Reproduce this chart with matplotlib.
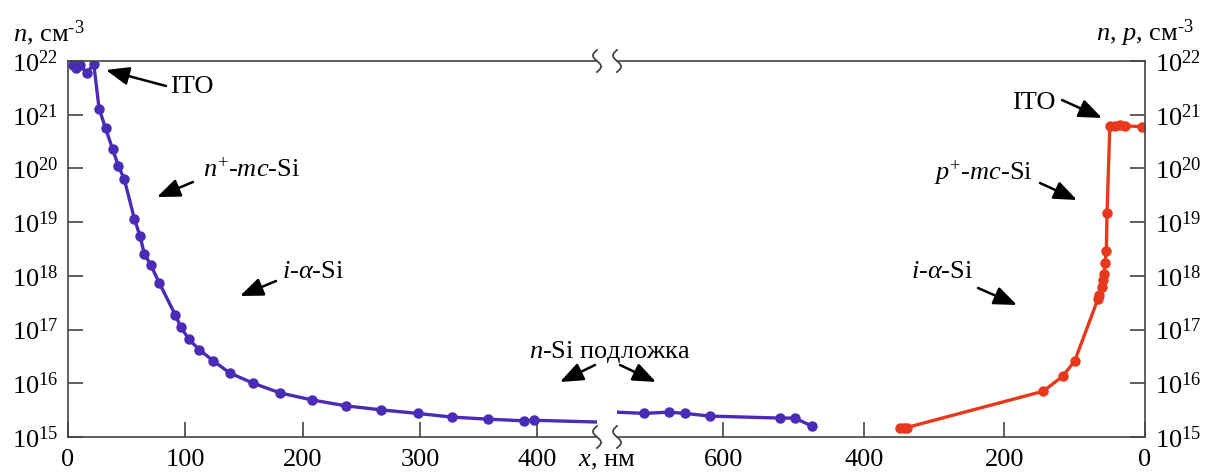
import numpy as np
import matplotlib
matplotlib.use("Agg")
import matplotlib.pyplot as plt
from matplotlib.lines import Line2D
from matplotlib.ticker import FixedLocator, FuncFormatter

plt.rcParams['font.family'] = ['Liberation Serif', 'DejaVu Serif']
plt.rcParams['mathtext.fontset'] = 'custom'
plt.rcParams['mathtext.rm'] = 'Liberation Serif'
plt.rcParams['mathtext.it'] = 'Liberation Serif:italic'
plt.rcParams['mathtext.bf'] = 'Liberation Serif:bold'

# front side (n-type), x from the ITO surface, nm
x_front = [4, 7, 10, 16, 22, 26.5, 32, 38, 43, 48, 56.6, 61.4, 65, 70.5, 77.8,
           91.3, 96.4, 103, 112, 124, 138, 158, 181, 208, 237, 267, 298, 327,
           358, 389, 397, 451]
n_front = [8.5e21, 7.4e21, 8.5e21, 6.0e21, 8.7e21, 1.3e21, 5.6e20, 2.3e20,
           1.1e20, 6.3e19, 1.15e19, 5.5e18, 2.6e18, 1.6e18, 7.4e17, 1.9e17,
           1.1e17, 6.6e16, 4.2e16, 2.6e16, 1.55e16, 1.0e16, 6.6e15, 4.9e15,
           3.8e15, 3.2e15, 2.75e15, 2.35e15, 2.15e15, 2.0e15, 2.05e15, 1.9e15]

# substrate continuation, shown on the right (reversed) scale
x_sub = [751, 713, 677, 654, 619, 519, 498, 474]
n_sub = [2.9e15, 2.75e15, 2.9e15, 2.75e15, 2.45e15, 2.25e15, 2.25e15, 1.6e15]

# back side (p-type), x from the back ITO surface, nm
x_back = [349, 343, 339, 145, 117, 100, 67, 65, 61, 60, 58, 57, 55, 54, 50,
          43, 36, 28, 4]
p_back = [1.5e15, 1.5e15, 1.5e15, 7.1e15, 1.35e16, 2.6e16, 3.7e17, 4.4e17,
          6.2e17, 8.3e17, 1.1e18, 1.75e18, 2.9e18, 1.5e19, 6.1e20, 6.2e20,
          6.3e20, 6.2e20, 6.0e20]

left_xticks = [0, 100, 200, 300, 400]
right_xticks = [600, 400, 200, 0]
decades = list(range(15, 23))

blue = '#4a2bb5'
red = '#e8381c'
axc = '#444444'

W, H = 1205, 474
fig = plt.figure(figsize=(W / 100, H / 100), dpi=100)


def fx(x):
    return x / W


def fy(y):
    return 1 - y / H


def px(x, y):
    return (fx(x), fy(y))


top, bot = 61, 437
ax1 = fig.add_axes([fx(68), fy(bot), fx(597 - 68), (bot - top) / H])
ax2 = fig.add_axes([fx(617), fy(bot), fx(1145 - 617), (bot - top) / H])

fmt = FuncFormatter(lambda v, p: r'$10^{%d}$' % round(np.log10(v)))
for ax in (ax1, ax2):
    ax.set_yscale('log')
    ax.set_ylim(1e15, 1e22)
    ax.yaxis.set_major_locator(FixedLocator([10.0 ** d for d in decades]))
    ax.yaxis.set_minor_locator(FixedLocator([]))
    ax.yaxis.set_major_formatter(fmt)
    for s in ax.spines.values():
        s.set_color(axc)
        s.set_linewidth(1.2)
    ax.tick_params(direction='in', length=11, width=1.2, color=axc,
                   labelsize=19, pad=7)
    ax.tick_params(axis='x', pad=9)
    ax.patch.set_alpha(0)

ax1.set_xlim(0, 451)
ax1.set_xticks(left_xticks)
ax1.spines['right'].set_visible(False)
ax1.plot(x_front, n_front, color=blue, lw=2.4, marker='o', ms=6.5,
         markevery=slice(0, -1))

ax2.set_xlim(751, 0)
ax2.set_xticks(right_xticks)
ax2.spines['left'].set_visible(False)
ax2.yaxis.tick_right()
ax2.plot(x_sub, n_sub, color=blue, lw=2.4, marker='o', ms=6.5,
         markevery=slice(1, None))
ax2.plot(x_back, p_back, color=red, lw=2.4, marker='o', ms=6.5)

# axis break marks
t = np.linspace(-1, 1, 40)
for xb in (597, 617):
    for yb in (top, bot):
        xs = [fx(xb + 4 * np.sin(np.pi * tt)) for tt in t]
        ys = [fy(yb + 11 * tt) for tt in t]
        fig.add_artist(Line2D(xs, ys, color=axc, lw=1.3,
                              transform=fig.transFigure))

# axis labels
fig.text(*px(13, 33), r'$n$, см$^{\text{-}3}$', fontsize=19, ha='left',
         va='center')
fig.text(*px(1194, 33), r'$n$, $p$, см$^{\text{-}3}$', fontsize=19,
         ha='right', va='center')
fig.text(*px(607, 461), r'$x$, нм', fontsize=19, ha='center', va='center')

# annotations
aprops = dict(arrowstyle='-|>,head_length=0.7,head_width=0.28', lw=1.8,
              color='black', shrinkA=0, shrinkB=0, mutation_scale=20)


def arrow(xy_tail, xy_tip):
    fig.add_artist(plt.Annotation('', xy=px(*xy_tip), xytext=px(*xy_tail),
                                  xycoords='figure fraction',
                                  textcoords='figure fraction',
                                  arrowprops=aprops))


def note(text, xy_text, xy_tail, xy_tip):
    fig.text(*px(*xy_text), text, fontsize=19, ha='center', va='center')
    arrow(xy_tail, xy_tip)


note('ITO', (192, 87), (166, 86), (106, 70))
note(r'$n^{+}$-$mc$-Si', (251, 170), (193, 182), (157, 197))
note(r'$i$-$\alpha$-Si', (313, 272), (276, 281), (240, 296))
fig.text(*px(610, 352), r'$n$-Si подложка', fontsize=19, ha='center',
         va='center')
arrow((595, 365), (560, 382))
arrow((620, 365), (656, 382))
note('ITO', (1034, 103), (1062, 100), (1102, 118))
note(r'$p^{+}$-$mc$-Si', (983, 173), (1040, 183), (1077, 200))
note(r'$i$-$\alpha$-Si', (942, 272), (978, 288), (1017, 305))

fig.savefig('out.png', dpi=100)
